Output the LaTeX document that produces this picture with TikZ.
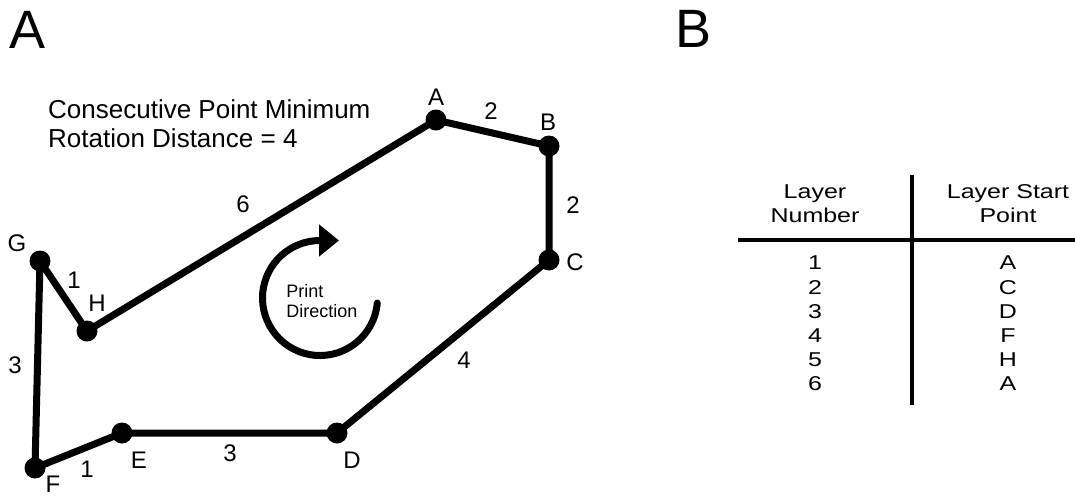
\documentclass[tikz,border=0pt]{standalone}
\usepackage{fontspec}
\setmainfont{Liberation Sans}
\newfontfamily\tablefont[FakeStretch=1.25]{Liberation Sans}
\usetikzlibrary{arrows.meta}

\begin{document}
\begin{tikzpicture}[x=1pt,y=-1pt,
  dot/.style={circle,fill,inner sep=0pt,minimum size=21pt},
  perim/.style={line width=7pt,line join=round},
  ptlab/.style={font=\fontsize{24}{28}\selectfont,inner sep=0pt},
  panel/.style={font=\fontsize{54}{60}\selectfont,inner sep=0pt},
  tabtxt/.style={font=\tablefont\fontsize{20}{24}\selectfont,inner sep=0pt,align=center},
  rule/.style={line width=3.5pt}]
  \useasboundingbox (0,0) rectangle (1075,496);
  % panel letters
  \node[panel] (panA) at (28,30) {A};
  \node[panel] (panB) at (693,29) {B};
  \node[font=\fontsize{26}{29}\selectfont,inner sep=0pt,align=left,anchor=north west]
    (note) at (48,99) {Consecutive Point Minimum\\Rotation Distance = 4};
  % print points
  \node[dot] (A) at (436,120) {};
  \node[dot] (B) at (549,146) {};
  \node[dot] (C) at (549,260) {};
  \node[dot] (D) at (337,433) {};
  \node[dot] (E) at (122,433) {};
  \node[dot] (F) at (35,468) {};
  \node[dot] (G) at (40,261) {};
  \node[dot] (H) at (87,331) {};
  \draw[perim] (A.center) -- (B.center) -- (C.center) -- (D.center) -- (E.center)
    -- (F.center) -- (G.center) -- (H.center) -- cycle;
  % point names
  \node[ptlab] (tA) at (436,97) {A};
  \node[ptlab] (tB) at (548,122) {B};
  \node[ptlab] (tC) at (575,262) {C};
  \node[ptlab] (tD) at (352,460) {D};
  \node[ptlab] (tE) at (139,460) {E};
  \node[ptlab] (tF) at (53,484) {F};
  \node[ptlab] (tG) at (17,243) {G};
  \node[ptlab] (tH) at (97,303) {H};
  % distances
  \node[ptlab] (dAB) at (491,111) {2};
  \node[ptlab] (dBC) at (573,205) {2};
  \node[ptlab] (dCD) at (464,360) {4};
  \node[ptlab] (dDE) at (230,453) {3};
  \node[ptlab] (dEF) at (87,469) {1};
  \node[ptlab] (dFG) at (15,365) {3};
  \node[ptlab] (dGH) at (74,280) {1};
  \node[ptlab] (dHA) at (243,204) {6};
  % print direction
  \coordinate (rot) at (320,298);
  \draw[line width=7pt,line cap=round,-{Triangle[length=20pt,width=31pt]}]
    ([shift={(5:57.5)}]rot) arc[start angle=5,end angle=270,radius=57.5] -- ++(19,0);
  \node[font=\fontsize{18}{20}\selectfont,inner sep=0pt,align=left] (dir) at (322,301)
    {Print\\Direction};
  % table
  \coordinate (vtop) at (912,175);
  \coordinate (vbot) at (912,405);
  \coordinate (hl) at (738,240);
  \coordinate (hr) at (1075,240);
  \draw[rule] (vtop) -- (vbot);
  \draw[rule] (hl) -- (hr);
  \node[tabtxt] (hNum) at (815,204) {Layer\\Number};
  \node[tabtxt] (hPt) at (1008,204) {Layer Start\\Point};
  \foreach \n/\p [count=\i] in {1/A,2/C,3/D,4/F,5/H,6/A}{
    \node[tabtxt] (num\i) at (815,{263+24.2*(\i-1)}) {\n};
    \node[tabtxt] (pt\i) at (1008,{263+24.2*(\i-1)}) {\p};
  }
\end{tikzpicture}
\end{document}
